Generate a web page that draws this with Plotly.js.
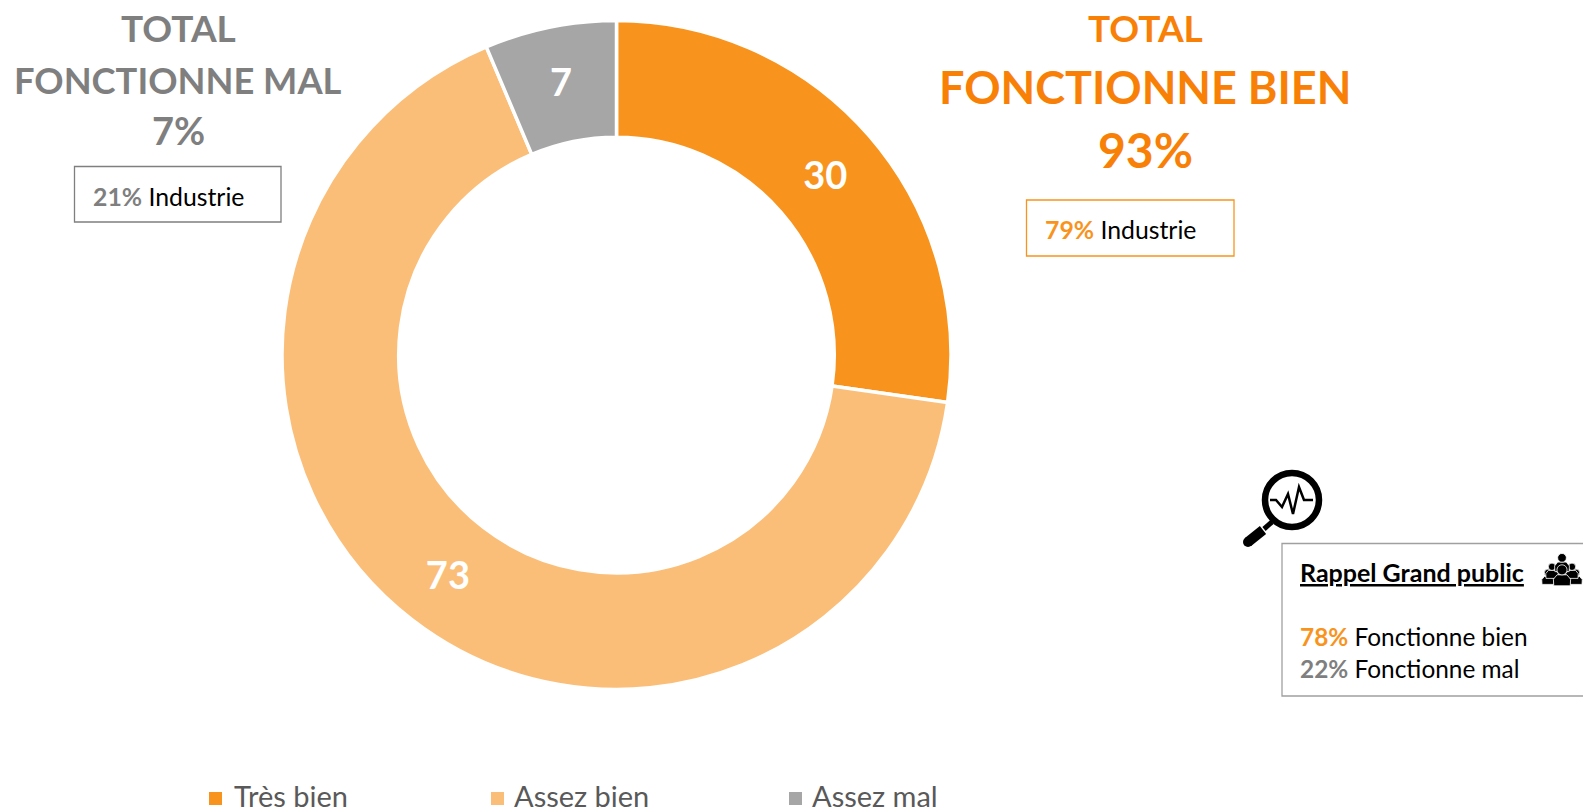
<!DOCTYPE html>
<html><head><meta charset="utf-8">
<script src="https://cdn.plot.ly/plotly-3.0.1.min.js"></script>
<style>html,body{margin:0;padding:0;background:#fff;overflow:hidden}#c{width:1583px;height:812px}</style>
</head><body><div id="c"></div>
<script>
const categories = ['Très bien', 'Assez bien', 'Assez mal'];
const values = [30, 73, 7];
const colors = ['#F8941D', '#FBBE78', '#A6A6A6'];
const legendMarkerX = [209, 491, 789];
const legendTextX = [233, 513, 811];
const W = 1583, H = 812;
const FONT = 'Lato, "Open Sans", sans-serif';
const ORANGE = '#F98007', GREY = '#7F7F7F', SL_OR = '#F8941D';
const px = x => x / W, py = y => 1 - y / H;
const cx = 616.5, cy = 355, R = 334.5;

function note(x, y, text, size, color, align) {
  return {xref:'paper', yref:'paper', x:px(x), y:py(y), text, showarrow:false, borderpad:0,
    xanchor:align||'center', yanchor:'middle', align:align||'center',
    font:{family:FONT, size, color}};
}
function rect(x0,y0,x1,y1,c){return {type:'rect',xref:'paper',yref:'paper',x0:px(x0),y0:py(y0),x1:px(x1),y1:py(y1),line:{color:c,width:1.3},fillcolor:'rgba(0,0,0,0)'};}
function block(x0,y0,x1,y1,c){return {type:'rect',xref:'paper',yref:'paper',x0:px(x0),y0:py(y0),x1:px(x1),y1:py(y1),line:{width:0},fillcolor:c};}
function circ(x,y,r,fill,lw){return {type:'circle',xref:'paper',yref:'paper',x0:px(x-r),x1:px(x+r),y0:py(y-r),y1:py(y+r),
  fillcolor:fill?'#000':'#fff',line:{color:'#000',width:lw||0}};}
function poly(pts,lw,fill,c){
  const d = pts.map((p,i)=>(i?'L':'M')+px(p[0])+','+py(p[1])).join(' ')+(fill?' Z':'');
  return {type:'path',xref:'paper',yref:'paper',path:d,line:{color:c||'#000',width:lw||0},fillcolor:fill?(c||'#000'):'rgba(0,0,0,0)'};
}
function person(x,y,s){
  return [
    {...poly([[x-7.5*s,y+8*s],[x-7.8*s,y+2*s],[x-4.5*s,y-2*s],[x+4.5*s,y-2*s],[x+7.8*s,y+2*s],[x+7.5*s,y+8*s]],.8,true),line:{color:'#fff',width:.8}},
    {...circ(x,y-6.5*s,4.6*s,true,.8),line:{color:'#fff',width:.8}}
  ];
}
const shapes = [
  rect(74.5,166.5,281,222,'#7F7F7F'),
  rect(1026.5,200,1234,256,'#F8941D'),
  rect(1282,543.5,1590,696,'#A0A0A0'),
  // magnifier
  circ(1292,500,27,false,6.5),
  poly([[1272,522],[1264,529]],5),
  poly([[1263,530],[1248,542]],10),
  circ(1248,542,5,true),
  poly([[1270,500],[1276,500],[1282,507],[1288,494],[1293,514],[1299,487],[1304,500],[1313,500]],2.5),
  // people
  ...person(1548,578,.8), ...person(1576,578,.8), ...person(1552,572,.8), ...person(1572,572,.8),
  ...person(1562,564,.95), ...person(1562,577,1.1),
  // legend swatches
  ...categories.map((c,i)=>block(legendMarkerX[i],792,legendMarkerX[i]+13,805,colors[i]))
];
const annotations = [
  note(178,28,'<b>TOTAL</b>',37,GREY),
  note(178,80,'<b>FONCTIONNE MAL</b>',36.3,GREY),
  note(178,130,'<b>7%</b>',38,GREY),
  note(92,196,'<span style="color:'+GREY+'"><b>21%</b></span> Industrie',24.8,'#000','left'),
  note(1145,28,'<b>TOTAL</b>',37,ORANGE),
  note(1145,87,'<b>FONCTIONNE BIEN</b>',45,ORANGE),
  note(1145,150,'<b>93%</b>',48,ORANGE),
  note(1044,229,'<span style="color:'+SL_OR+'"><b>79%</b></span> Industrie',24.8,'#000','left'),
  note(1299,572,'<span style="text-decoration:underline"><b>Rappel Grand public</b></span>',25,'#000','left'),
  note(1299,636,'<span style="color:'+SL_OR+'"><b>78%</b></span> Fonctionne bien',24.4,'#000','left'),
  note(1299,668,'<span style="color:'+GREY+'"><b>22%</b></span> Fonctionne mal',24.4,'#000','left'),
  ...categories.map((c,i)=>note(legendTextX[i],795,c,29,'#595959','left'))
];
const trace = {type:'pie', labels:categories, values, sort:false, direction:'clockwise', rotation:0, hole:0.651,
  domain:{x:[px(cx-R),px(cx+R)], y:[py(cy+R),py(cy-R)]},
  marker:{colors, line:{color:'#fff',width:3.5}},
  texttemplate:'<b>%{value}</b>', textposition:'inside', insidetextorientation:'horizontal',
  insidetextfont:{family:FONT,size:38,color:'#fff'}, hoverinfo:'label+value'};
const layout = {width:W,height:H,margin:{l:0,r:0,t:0,b:0},paper_bgcolor:'#fff',plot_bgcolor:'#fff',
  font:{family:FONT},
  showlegend:false,
  shapes,annotations};
Plotly.newPlot('c',[trace],layout,{displayModeBar:false,staticPlot:true});
</script></body></html>
